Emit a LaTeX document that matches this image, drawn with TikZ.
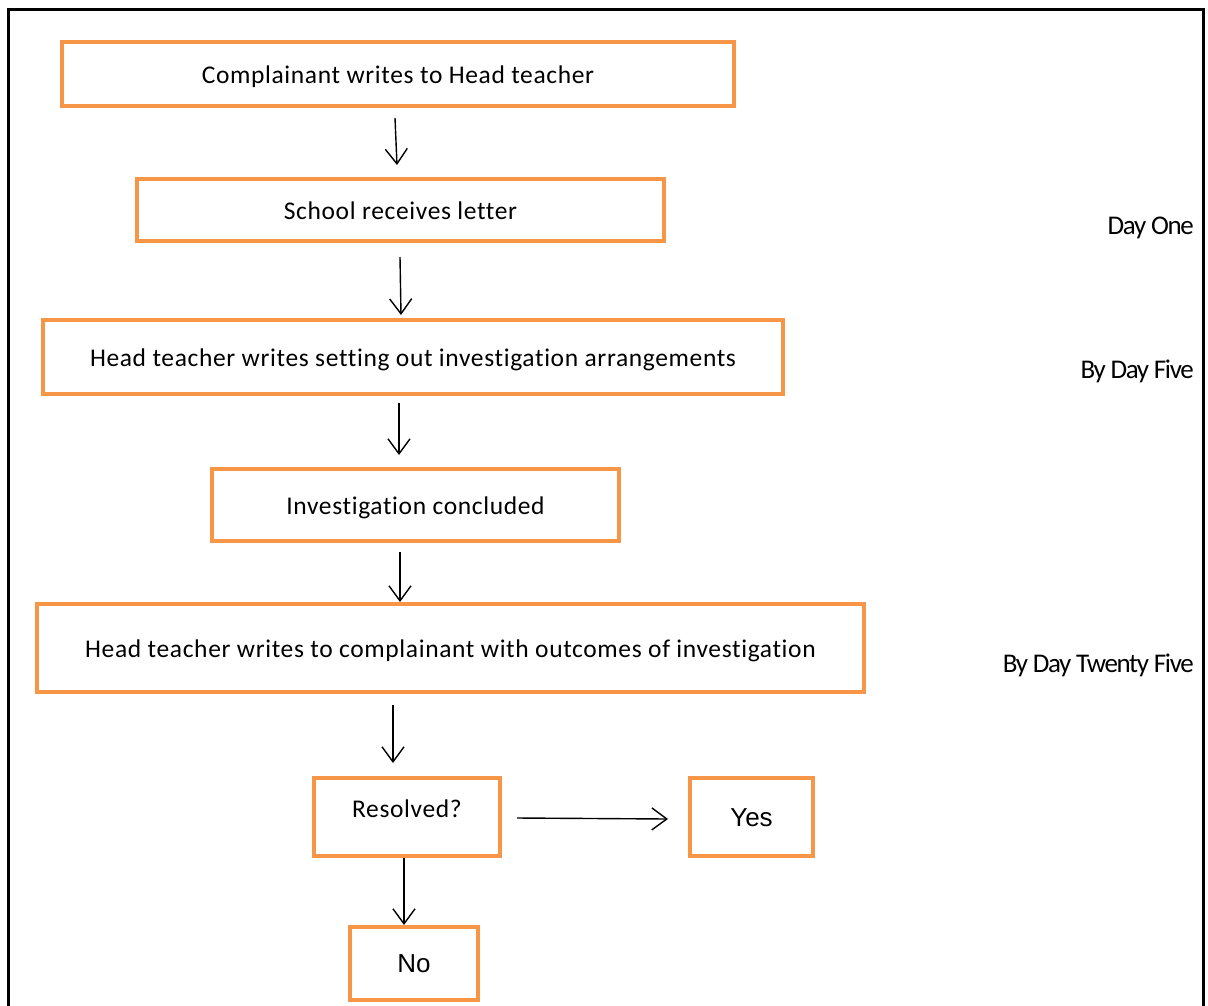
\documentclass[tikz,border=0pt]{standalone}
\usepackage{fontspec}
\setmainfont{Carlito}
\newfontfamily\boxfont[LetterSpace=2.5,Ligatures=NoCommon]{Carlito}
\newfontfamily\sidefont[LetterSpace=-5,Ligatures=NoCommon]{Carlito}
\newfontfamily\arialfont{Liberation Sans}
\usetikzlibrary{arrows.meta}
\definecolor{orangeline}{HTML}{F79646}
\begin{document}
\begin{tikzpicture}[x=1pt,y=-1pt,
  flowbox/.style={draw=orangeline, line width=4pt, inner sep=0pt, outer sep=0pt,
    text height=22pt, text depth=4pt,
    font=\boxfont\fontsize{25.5}{30}\selectfont},
  answerbox/.style={flowbox, font=\arialfont\fontsize{26}{30}\selectfont},
  sidelabel/.style={anchor=east, inner sep=0pt, font=\sidefont\fontsize{27}{30}\selectfont},
  arr/.style={line width=1.4pt, -{Straight Barb[length=15pt,width=22pt,line width=1.4pt]}}]
\useasboundingbox (0,0) rectangle (1208,1005);
% frame
\draw[line width=3pt] (8,1006) -- (8,9) -- (1203,9) -- (1203,1006);
% boxes
\node[flowbox, minimum width=672pt, minimum height=64pt] (b1) at (398,74) {Complainant writes to Head teacher};
\node[flowbox, minimum width=527pt, minimum height=62pt] (b2) at (400.5,210) {School receives letter};
\node[flowbox, minimum width=740pt, minimum height=74pt] (b3) at (413,357) {Head teacher writes setting out investigation arrangements};
\node[flowbox, minimum width=407pt, minimum height=72pt] (b4) at (415.5,505) {Investigation concluded};
\node[flowbox, minimum width=827pt, minimum height=88pt] (b5) at (450.5,648) {Head teacher writes to complainant with outcomes of investigation};
\node[flowbox, minimum width=186pt, minimum height=78pt, text depth=22pt] (b6) at (407,817) {Resolved?};
\node[answerbox, minimum width=123pt, minimum height=78pt] (b7) at (751.5,817) {Yes};
\node[answerbox, minimum width=128pt, minimum height=73pt] (b8) at (414,963.5) {No};
% side labels
\node[sidelabel] (d1) at (1194,228) {Day One};
\node[sidelabel] (d5) at (1194,371) {By Day Five};
\node[sidelabel] (d25) at (1194,665) {By Day Twenty Five};
% arrows
\draw[arr] ([xshift=-3pt,yshift=-12pt]b1.south) -- ([xshift=-3.5pt,yshift=14pt]b2.north);
\draw[arr] ([xshift=-0.5pt,yshift=-16pt]b2.south) -- ([xshift=-12pt,yshift=5pt]b3.north);
\draw[arr] ([xshift=-14pt,yshift=-9pt]b3.south) -- ([xshift=-16.5pt,yshift=14pt]b4.north);
\draw[arr] ([xshift=-15.5pt,yshift=-11pt]b4.south) -- ([xshift=-50.5pt,yshift=2pt]b5.north);
\draw[arr] ([xshift=-57.5pt,yshift=-13pt]b5.south) -- ([xshift=-14pt,yshift=15pt]b6.north);
\draw[arr] ([xshift=17pt,yshift=-1pt]b6.east) -- ([xshift=-22pt,yshift=-2pt]b7.west);
\draw[arr] ([xshift=-3pt,yshift=-2pt]b6.south) -- ([xshift=-10pt,yshift=2pt]b8.north);
\end{tikzpicture}
\end{document}
